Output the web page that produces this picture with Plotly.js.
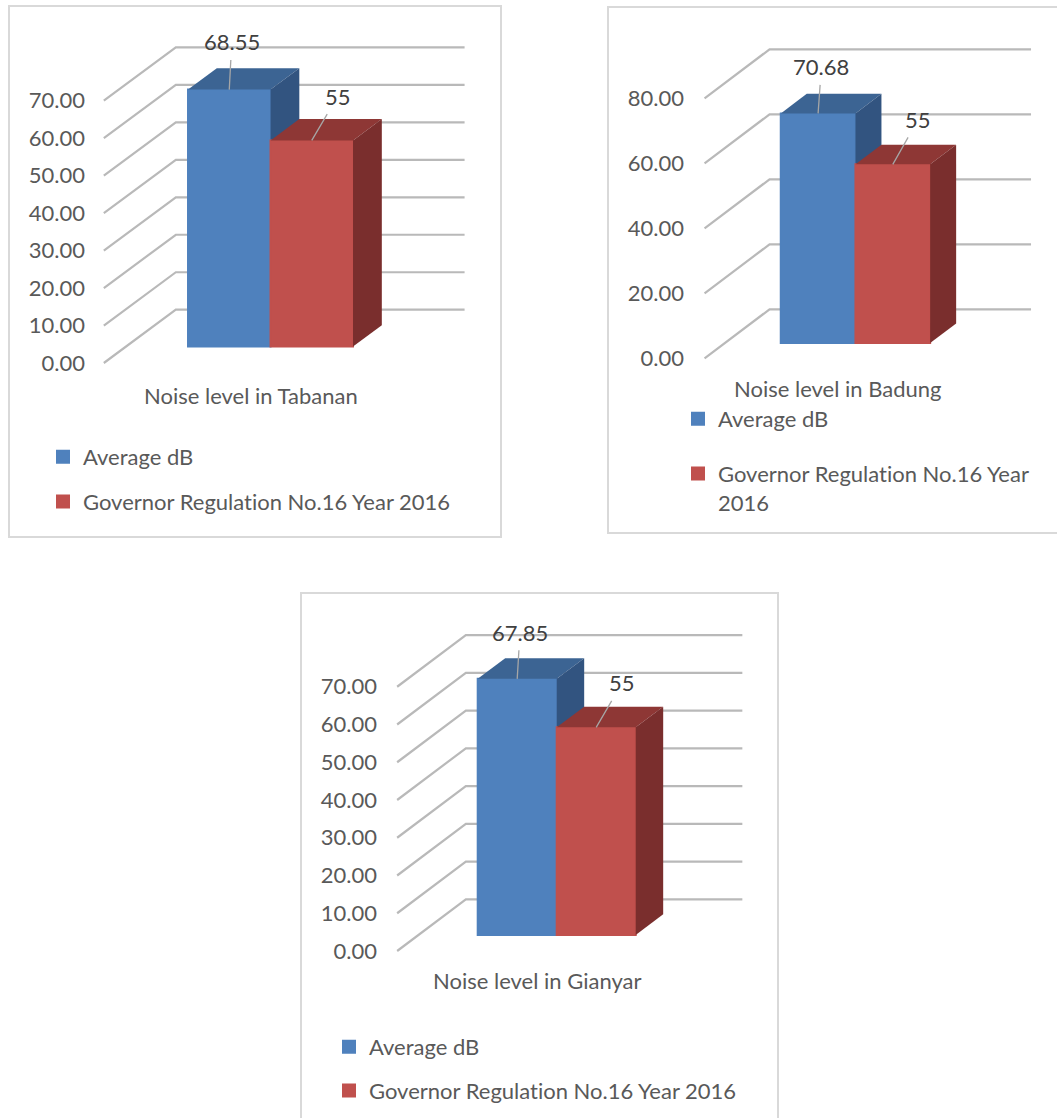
<!DOCTYPE html>
<html>
<head>
<meta charset="utf-8">
<script src="https://cdn.plot.ly/plotly-3.0.1.min.js"></script>
<style>
html,body{margin:0;padding:0;background:#ffffff;}
#chart{width:1057px;height:1118px;}
svg text{font-variant-ligatures:none;font-feature-settings:"liga" 0;}
</style>
</head>
<body>
<div id="chart"></div>
<script>
// ---------------- DATA ----------------
const seriesNames = ['Average dB', 'Governor Regulation No.16 Year 2016'];
const badungLegendNames = ['Average dB', 'Governor Regulation No.16 Year<br>2016'];
const categories = ['Noise level in Tabanan', 'Noise level in Badung', 'Noise level in Gianyar'];
const tabananValues = [68.55, 55];
const badungValues = [70.68, 55];
const gianyarValues = [67.85, 55];
const tabananTicks = [0, 10, 20, 30, 40, 50, 60, 70];
const badungTicks = [0, 20, 40, 60, 80];
const gianyarTicks = [0, 10, 20, 30, 40, 50, 60, 70];

// ---------------- LAYOUT / STYLE ----------------
const W = 1057, H = 1118;
const F1 = 0.31, F2 = 0.71;      // bar front / back depth fraction
const HALF = 1.75;               // half width of the floor, in bar widths
const FONT = 'Lato, "Open Sans", sans-serif';
const FS = 22;
const TXT = '#595959';
const colors = {
  front: ['#4F81BD', '#C0504D'],
  top:   ['#3C6493', '#8E3735'],
  side:  ['#325480', '#7A2E2D']
};

const panels = [
  { cat: categories[0], values: tabananValues, ticks: tabananTicks, names: seriesNames,
    cx: 248.2, sx: 82.5, y0: 363, sy: 3.747, dpx: 72, dpy: 53.3,
    box: [95, 480, 25, 380], labelRight: 82, frame: [9, 6, 501, 537],
    catXY: [251, 395.3], legendXY: [43, 436], legendGap: 13,
    labelOff: [[2.5, -47.7], [26, -44.3]] },
  { cat: categories[1], values: badungValues, ticks: badungTicks, names: badungLegendNames,
    cx: 835.3, sx: 74.7, y0: 358.3, sy: 3.25, dpx: 65, dpy: 49,
    box: [695, 1045, 30, 372], labelRight: 681, frame: [608, 7, 1075, 533],
    catXY: [838, 388.3], legendXY: [678, 398], legendGap: 23,
    labelOff: [[3.3, -46.5], [25.5, -45]] },
  { cat: categories[2], values: gianyarValues, ticks: gianyarTicks, names: seriesNames,
    cx: 535.4, sx: 79, y0: 951, sy: 3.775, dpx: 68.7, dpy: 51.7,
    box: [388, 760, 615, 965], labelRight: 374, frame: [301, 593, 778, 1140],
    catXY: [537, 980.6], legendXY: [329, 1026], legendGap: 12,
    labelOff: [[2.8, -46.6], [26, -44.4]] }
];

const traces = [];
const layout = {
  width: W, height: H,
  margin: {l: 0, r: 0, t: 0, b: 0},
  paper_bgcolor: '#ffffff', plot_bgcolor: 'rgba(0,0,0,0)',
  barmode: 'overlay', showlegend: true,
  font: {family: FONT, color: TXT, size: FS},
  shapes: [], annotations: []
};

const sfx = n => (n === 1 ? '' : String(n));

panels.forEach((p, i) => {
  const nb = 2 * i + 1, no = 2 * i + 2;
  const DX = p.dpx / p.sx, DY = p.dpy / p.sy;
  const [L, R, T, B] = p.box;
  const xr = [(L - p.cx) / p.sx, (R - p.cx) / p.sx];
  const yr = [(p.y0 - B) / p.sy, (p.y0 - T) / p.sy];
  const legendKey = i === 0 ? 'legend' : 'legend' + (i + 1);

  layout['xaxis' + sfx(nb)] = {domain: [L / W, R / W], range: xr, visible: false,
    anchor: 'y' + sfx(nb), fixedrange: true};
  layout['yaxis' + sfx(nb)] = {domain: [1 - B / H, 1 - T / H], range: yr,
    anchor: 'free', position: (p.labelRight + 3) / W,
    tickmode: 'array', tickvals: p.ticks, tickformat: '.2f',
    showgrid: false, zeroline: false, showline: false, ticks: '',
    tickfont: {family: FONT, size: FS, color: TXT}, fixedrange: true};
  layout['xaxis' + sfx(no)] = {overlaying: 'x' + sfx(nb), range: xr, visible: false,
    anchor: 'y' + sfx(no), fixedrange: true};
  layout['yaxis' + sfx(no)] = {overlaying: 'y' + sfx(nb), range: yr, visible: false,
    anchor: 'x' + sfx(no), fixedrange: true};

  // panel frame
  layout.shapes.push({type: 'rect', xref: 'paper', yref: 'paper', layer: 'below',
    x0: p.frame[0] / W, x1: p.frame[2] / W, y0: 1 - p.frame[3] / H, y1: 1 - p.frame[1] / H,
    line: {color: '#D9D9D9', width: 2}, fillcolor: 'rgba(0,0,0,0)'});

  // 3-D gridlines: oblique side wall line + horizontal back wall line, per tick
  p.ticks.forEach(v => {
    layout.shapes.push({type: 'path', xref: 'x' + sfx(nb), yref: 'y' + sfx(nb), layer: 'below',
      path: 'M' + (-HALF) + ',' + v + ' L' + (-HALF + DX) + ',' + (v + DY) + ' L' + (HALF + DX) + ',' + (v + DY),
      line: {color: '#B9B9B9', width: 2.2}});
  });

  // bars
  p.values.forEach((v, s) => {
    const xa = 'x' + sfx(s === 0 ? nb : no), ya = 'y' + sfx(s === 0 ? nb : no);
    const c = s - 0.5, xl = c - 0.5, xh = c + 0.5;
    traces.push({type: 'bar', x: [c + F1 * DX], y: [v], base: [F1 * DY], width: [1],
      xaxis: xa, yaxis: ya, marker: {color: colors.front[s], line: {width: 2, color: colors.front[s]}},
      name: p.names[s], legend: legendKey, legendgroup: 'g' + i + '_' + s,
      showlegend: true, hoverinfo: 'skip'});
    traces.push({type: 'scatter', mode: 'lines', xaxis: xa, yaxis: ya,
      x: [xl + F1 * DX, xh + F1 * DX, xh + F2 * DX, xl + F2 * DX, xl + F1 * DX],
      y: [v + F1 * DY, v + F1 * DY, v + F2 * DY, v + F2 * DY, v + F1 * DY],
      fill: 'toself', fillcolor: colors.top[s], line: {width: 0},
      legend: legendKey, legendgroup: 'g' + i + '_' + s, showlegend: false, hoverinfo: 'skip'});
    traces.push({type: 'scatter', mode: 'lines', xaxis: xa, yaxis: ya,
      x: [xh + F1 * DX, xh + F1 * DX, xh + F2 * DX, xh + F2 * DX, xh + F1 * DX],
      y: [F1 * DY, v + F1 * DY, v + F2 * DY, F2 * DY, F1 * DY],
      fill: 'toself', fillcolor: colors.side[s], line: {width: 0},
      legend: legendKey, legendgroup: 'g' + i + '_' + s, showlegend: false, hoverinfo: 'skip'});
    layout.annotations.push({xref: 'x' + sfx(nb), yref: 'y' + sfx(nb),
      x: c + F1 * DX, y: v + F1 * DY, text: String(v),
      showarrow: true, arrowhead: 0, arrowwidth: 1.3, arrowcolor: '#A6A6A6',
      ax: p.labelOff[s][0], ay: p.labelOff[s][1], standoff: 0, borderpad: 4,
      font: {family: FONT, size: FS, color: '#404040'}});
  });

  // category label
  layout.annotations.push({xref: 'paper', yref: 'paper', x: p.catXY[0] / W, y: 1 - p.catXY[1] / H,
    xanchor: 'center', yanchor: 'middle', showarrow: false, text: p.cat,
    font: {family: FONT, size: FS, color: TXT}});

  layout[legendKey] = {x: p.legendXY[0] / W, y: 1 - p.legendXY[1] / H, xanchor: 'left', yanchor: 'top',
    bgcolor: 'rgba(0,0,0,0)', borderwidth: 0, orientation: 'v',
    font: {family: FONT, size: FS, color: TXT}, traceorder: 'grouped',
    tracegroupgap: p.legendGap, valign: 'top', itemclick: false, itemdoubleclick: false};
});

Plotly.newPlot('chart', traces, layout, {displayModeBar: false, staticPlot: true});
</script>
</body>
</html>
